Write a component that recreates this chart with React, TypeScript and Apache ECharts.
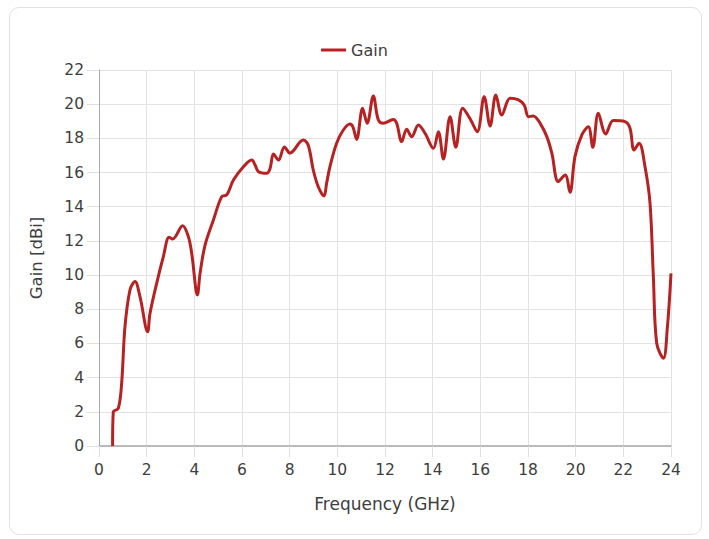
import React, { useEffect, useRef } from "react";
import * as echarts from "echarts";

const frequency = [
  0.57, 0.6, 0.81, 0.95, 1.09, 1.3, 1.51, 1.72, 2.04, 2.14, 2.42, 2.7, 2.94, 3.09, 3.51, 3.75, 3.89,
  4.13, 4.24, 4.45, 4.8, 5.15, 5.36, 5.64, 6.06, 6.41, 6.55, 6.69, 7.04, 7.18, 7.32, 7.53, 7.78,
  8.01, 8.57, 8.78, 8.99, 9.2, 9.44, 9.55, 9.69, 9.97, 10.25, 10.53, 10.65, 10.81, 11.06, 11.25,
  11.51, 11.72, 11.93, 12.35, 12.49, 12.7, 12.91, 13.12, 13.4, 13.68, 14.03, 14.24, 14.45, 14.73,
  14.97, 15.26, 15.57, 15.87, 16.16, 16.41, 16.65, 16.9, 17.25, 17.6, 17.84, 18.02, 18.22, 18.51,
  18.79, 19.0, 19.27, 19.56, 19.76, 19.97, 20.26, 20.53, 20.72, 20.95, 21.26, 21.58, 22.07, 22.28,
  22.45, 22.66, 22.91, 23.12, 23.26, 23.4, 23.68, 23.85, 24.0,
];

const gain = [
  0, 2.0, 2.2, 3.67, 6.98, 9.13, 9.62, 8.74, 6.69, 7.76, 9.52, 11.08, 12.21, 12.11, 12.89, 12.25,
  11.27, 8.84, 10.1, 11.76, 13.22, 14.59, 14.69, 15.56, 16.34, 16.73, 16.44, 16.05, 15.96, 16.25,
  17.09, 16.73, 17.5, 17.14, 17.9, 17.6, 16.15, 15.17, 14.63, 15.37, 16.34, 17.71, 18.49, 18.84,
  18.68, 17.94, 19.76, 18.88, 20.48, 19.07, 18.88, 19.1, 18.88, 17.81, 18.53, 18.1, 18.78, 18.3,
  17.42, 18.39, 16.79, 19.27, 17.48, 19.76, 19.15, 18.39, 20.44, 18.72, 20.54, 19.37, 20.34, 20.25,
  19.95, 19.27, 19.31, 18.88, 18.1, 17.13, 15.47, 15.86, 14.84, 16.93, 18.2, 18.68, 17.48, 19.47,
  18.26, 19.04, 18.98, 18.59, 17.32, 17.71, 16.34, 14.2, 9.9, 6.01, 5.13, 6.98, 10.1,
];

const xTicks = [0, 2, 4, 6, 8, 10, 12, 14, 16, 18, 20, 22, 24];
const yTicks = [0, 2, 4, 6, 8, 10, 12, 14, 16, 18, 20, 22];

const FONT = "'DejaVu Sans', sans-serif";
const TEXT = "#3d3d3d";

export default function App() {
  const ref = useRef<HTMLDivElement>(null);

  useEffect(() => {
    if (!ref.current) return;
    const chart = echarts.init(ref.current, undefined, { renderer: "svg" });
    const data = frequency.map((f, i) => [f, gain[i]]);
    chart.setOption({
      animation: false,
      textStyle: { fontFamily: FONT },
      legend: {
        top: 37,
        left: "center",
        itemWidth: 25,
        itemHeight: 3,
        itemGap: 6,
        icon: "rect",
        textStyle: { fontFamily: FONT, fontSize: 16, color: TEXT },
        data: ["Gain"],
      },
      grid: { left: 99, right: 38, top: 70, bottom: 93, containLabel: false },
      xAxis: {
        type: "value",
        min: xTicks[0],
        max: xTicks[xTicks.length - 1],
        interval: 2,
        name: "Frequency (GHz)",
        nameLocation: "middle",
        nameGap: 49,
        nameTextStyle: { fontFamily: FONT, fontSize: 17, color: TEXT },
        axisLine: { show: true, lineStyle: { color: "#a8a8a8", width: 1.5 } },
        axisTick: { show: true, length: 11, lineStyle: { color: "#e0e0e0" } },
        axisLabel: { fontFamily: FONT, fontSize: 15.5, color: TEXT, margin: 16 },
        splitLine: { show: true, lineStyle: { color: "#e3e3e3" } },
      },
      yAxis: {
        type: "value",
        min: yTicks[0],
        max: yTicks[yTicks.length - 1],
        interval: 2,
        name: "Gain [dBi]",
        nameLocation: "middle",
        nameGap: 54,
        nameRotate: 90,
        nameTextStyle: { fontFamily: FONT, fontSize: 16.5, color: TEXT },
        axisLine: { show: true, lineStyle: { color: "#a8a8a8", width: 1 } },
        axisTick: { show: true, length: 12, lineStyle: { color: "#e0e0e0" } },
        axisLabel: { fontFamily: FONT, fontSize: 15.5, color: TEXT, margin: 15 },
        splitLine: { show: true, lineStyle: { color: "#e3e3e3" } },
      },
      series: [
        {
          name: "Gain",
          type: "line",
          data,
          smooth: 0.35,
          showSymbol: false,
          symbol: "none",
          lineStyle: { color: "#b82121", width: 3 },
          itemStyle: { color: "#b82121" },
        },
      ],
    });
    return () => chart.dispose();
  }, []);

  return (
    <div style={{ position: "absolute", left: 0, top: 0, width: 709, height: 539, background: "#fff" }}>
      <div
        style={{
          position: "absolute",
          left: 9,
          top: 7,
          width: 693,
          height: 528,
          border: "1px solid #e2e2e2",
          borderRadius: 10,
          boxSizing: "border-box",
        }}
      />
      <div ref={ref} style={{ position: "absolute", left: 0, top: 0, width: 709, height: 539 }} />
    </div>
  );
}
